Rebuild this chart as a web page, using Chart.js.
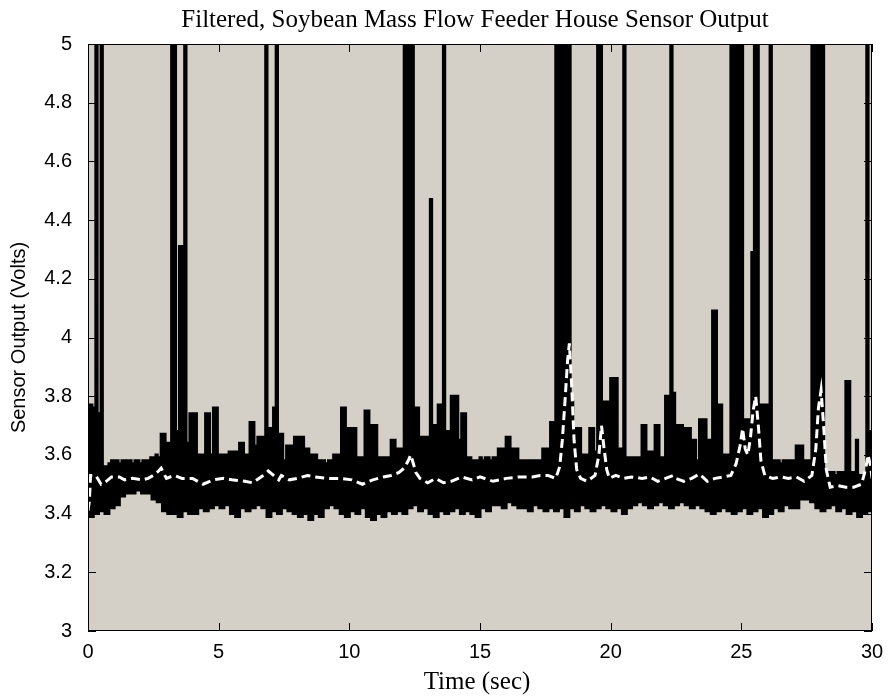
<!DOCTYPE html>
<html><head><meta charset="utf-8">
<script src="https://cdn.jsdelivr.net/npm/chart.js@4.4.1/dist/chart.umd.min.js"></script>
<style>html,body{margin:0;padding:0;background:#fff;}#wrap{width:888px;height:698px;}</style>
</head><body><div id="wrap"><canvas id="c" width="888" height="698"></canvas></div>
<script>
// ---- DATA ----
const chartTitle = 'Filtered, Soybean Mass Flow Feeder House Sensor Output';
const xTitle = 'Time (sec)';
const yTitle = 'Sensor Output (Volts)';
const xTickValues = [0, 5, 10, 15, 20, 25, 30];
const xTickLabels = ['0', '5', '10', '15', '20', '25', '30'];
const yTickValues = [3, 3.2, 3.4, 3.6, 3.8, 4, 4.2, 4.4, 4.6, 4.8, 5];
const yTickLabels = ['3', '3.2', '3.4', '3.6', '3.8', '4', '4.2', '4.4', '4.6', '4.8', '5'];

// raw sensor output: sample step (s); upper swing of each 0.1 s sample
const rawStep = 0.1;
const rawUpper = [
3.77,3.77,3.76,5.2,3.74,5.2,3.56,3.56,3.57,3.58,
3.58,3.58,3.57,3.58,3.58,3.58,3.58,3.57,3.58,3.58,
3.57,3.58,3.58,3.58,3.59,3.59,3.60,3.59,3.67,3.67,
3.64,3.64,5.2,5.2,3.68,4.31,4.31,5.2,3.64,3.74,
3.74,3.74,3.60,3.60,3.60,3.74,3.74,3.60,3.76,3.76,
3.60,3.60,3.60,3.60,3.61,3.61,3.61,3.61,3.64,3.64,
3.60,3.60,3.71,3.71,3.63,3.66,3.66,3.66,5.2,3.69,
3.69,3.76,5.2,3.67,3.67,3.58,3.63,3.63,3.63,3.66,
3.66,3.66,3.66,3.62,3.62,3.60,3.60,3.60,3.58,3.58,
3.58,3.57,3.58,3.58,3.60,3.60,3.60,3.76,3.76,3.69,
3.69,3.69,3.69,3.59,3.59,3.59,3.75,3.75,3.70,3.70,
3.70,3.59,3.59,3.59,3.59,3.59,3.65,3.65,3.62,3.62,
3.62,5.2,5.2,5.2,5.2,3.76,3.76,3.66,3.66,3.66,
3.66,4.47,3.70,3.70,3.77,3.77,5.2,3.68,3.68,3.80,
3.80,3.80,3.65,3.74,3.74,3.59,3.59,3.58,3.58,3.58,
3.59,3.58,3.59,3.59,3.58,3.59,3.59,3.62,3.62,3.62,
3.66,3.66,3.62,3.62,3.62,3.58,3.58,3.58,3.58,3.58,
3.58,3.58,3.58,3.58,3.62,3.62,3.62,3.71,3.71,5.2,
5.2,5.2,5.2,5.2,5.2,3.78,3.69,3.69,3.69,3.60,
3.60,3.60,3.69,3.69,3.61,5.2,5.2,3.78,3.78,3.78,
3.86,3.86,3.86,3.62,3.62,5.2,3.59,3.59,3.59,3.59,
3.59,3.59,3.70,3.70,3.61,3.61,3.61,3.70,3.70,3.59,
3.59,3.80,3.80,5.2,3.81,3.70,3.70,3.70,3.69,3.69,
3.69,3.65,3.65,3.58,3.72,3.72,3.72,3.65,3.65,4.09,
4.09,3.77,3.77,3.60,3.60,3.60,5.2,5.2,5.2,5.2,
5.2,3.72,3.72,3.72,4.29,5.2,5.2,3.77,3.77,3.77,
3.77,5.2,3.58,3.58,3.58,3.57,3.58,3.58,3.58,3.58,
3.58,3.63,3.63,3.63,3.58,3.58,3.58,5.2,5.2,5.2,
5.2,5.2,3.54,3.54,3.54,3.54,3.53,3.54,3.54,3.54,
3.85,3.85,3.54,3.54,3.65,3.53,3.53,3.53,5.2,3.68,
3.68
];
// lower swing of the raw signal, one value per 0.2 s
const rawLower = [
3.39,3.40,3.41,3.40,3.42,3.43,3.46,3.47,3.47,3.48,
3.47,3.47,3.45,3.44,3.41,3.40,3.40,3.39,3.41,3.40,
3.40,3.42,3.41,3.42,3.43,3.42,3.43,3.40,3.39,3.42,
3.41,3.42,3.43,3.42,3.39,3.41,3.40,3.42,3.41,3.40,
3.39,3.40,3.38,3.40,3.39,3.42,3.43,3.42,3.40,3.39,
3.41,3.40,3.42,3.39,3.38,3.40,3.39,3.41,3.40,3.41,
3.40,3.42,3.43,3.41,3.42,3.40,3.39,3.41,3.40,3.41,
3.42,3.40,3.41,3.40,3.39,3.42,3.41,3.43,3.43,3.42,
3.44,3.43,3.42,3.42,3.41,3.43,3.42,3.41,3.42,3.41,
3.42,3.39,3.42,3.41,3.43,3.42,3.41,3.42,3.43,3.42,
3.41,3.42,3.40,3.42,3.43,3.44,3.43,3.42,3.43,3.44,
3.43,3.42,3.43,3.44,3.43,3.42,3.43,3.42,3.41,3.40,
3.41,3.42,3.41,3.40,3.41,3.42,3.40,3.41,3.42,3.39,
3.40,3.42,3.41,3.43,3.42,3.42,3.45,3.45,3.44,3.42,
3.41,3.42,3.43,3.41,3.42,3.40,3.41,3.39,3.40,3.41,3.40
];

// filtered output (white dashed)
const filtTime = [0,0.05,0.1,0.3,0.5,0.7,0.9,1.2,1.4,1.7,2.1,2.3,2.5,2.7,2.8,3.0,3.3,3.6,4.0,4.4,4.8,5.2,5.5,6.0,6.3,6.7,6.9,7.1,7.3,7.4,7.7,8.0,8.4,8.7,9.2,9.6,10.1,10.5,10.9,11.3,11.6,11.9,12.1,12.25,12.35,12.45,12.55,12.7,13.0,13.3,13.6,13.9,14.3,14.7,15.0,15.5,16.0,16.5,17.0,17.3,17.6,17.9,18.05,18.15,18.25,18.35,18.42,18.5,18.6,18.7,18.85,19.1,19.4,19.55,19.65,19.75,19.85,19.95,20.2,20.5,20.8,21.2,21.5,21.8,22.1,22.4,22.5,22.8,23.1,23.4,23.7,24.0,24.3,24.6,24.8,24.95,25.05,25.15,25.25,25.35,25.45,25.55,25.65,25.75,25.9,26.2,26.5,26.8,27.1,27.4,27.7,27.85,27.95,28.05,28.15,28.25,28.4,28.7,29.0,29.3,29.6,29.75,29.85,29.95,30.0];
const filtVolts = [3.41,3.44,3.53,3.53,3.50,3.51,3.525,3.525,3.515,3.52,3.515,3.52,3.53,3.545,3.555,3.52,3.53,3.52,3.52,3.50,3.515,3.52,3.515,3.51,3.505,3.53,3.545,3.53,3.515,3.53,3.515,3.52,3.53,3.525,3.52,3.52,3.515,3.50,3.515,3.525,3.53,3.54,3.555,3.58,3.60,3.57,3.54,3.52,3.505,3.52,3.505,3.51,3.525,3.515,3.525,3.51,3.52,3.525,3.525,3.53,3.53,3.52,3.56,3.65,3.78,3.92,3.98,3.85,3.65,3.55,3.52,3.51,3.53,3.60,3.70,3.62,3.55,3.52,3.53,3.52,3.525,3.52,3.525,3.51,3.52,3.53,3.52,3.51,3.52,3.535,3.51,3.52,3.525,3.53,3.57,3.63,3.69,3.62,3.60,3.66,3.75,3.80,3.70,3.58,3.53,3.52,3.525,3.52,3.525,3.51,3.53,3.62,3.76,3.82,3.70,3.55,3.49,3.495,3.49,3.49,3.50,3.55,3.60,3.56,3.52];

// ---- build library tables ----
const rawPoints = [];
for (let i = 0; i < rawUpper.length; i++) {
  rawPoints.push({ x: i * rawStep, y: rawUpper[i] });
  rawPoints.push({ x: i * rawStep + rawStep / 2, y: rawLower[Math.floor(i / 2)] });
}
const filtPoints = filtTime.map((t, i) => ({ x: t, y: filtVolts[i] }));

const TICK_FONT = { family: 'Liberation Sans', size: 20 };

const framePlugin = {
  id: 'frame',
  beforeDraw(chart) {
    const { ctx, chartArea: a } = chart;
    ctx.save();
    ctx.fillStyle = '#ffffff';
    ctx.fillRect(0, 0, chart.width, chart.height);
    ctx.fillStyle = '#d4d0c8';
    ctx.fillRect(a.left, a.top, a.right - a.left, a.bottom - a.top);
    ctx.restore();
  },
  afterDraw(chart) {
    const { ctx, chartArea: a, scales } = chart;
    ctx.save();
    ctx.strokeStyle = '#000';
    ctx.lineWidth = 1;
    ctx.strokeRect(a.left + 0.5, a.top + 0.5, a.right - a.left - 1, a.bottom - a.top - 1);
    const tl = 8;
    ctx.beginPath();
    yTickValues.forEach(v => {
      const py = Math.round(scales.y.getPixelForValue(v)) + 0.5;
      ctx.moveTo(a.left, py); ctx.lineTo(a.left + tl, py);
      ctx.moveTo(a.right, py); ctx.lineTo(a.right - tl, py);
    });
    xTickValues.forEach(v => {
      const px = Math.round(scales.x.getPixelForValue(v)) + 0.5;
      ctx.moveTo(px, a.bottom); ctx.lineTo(px, a.bottom - tl);
      ctx.moveTo(px, a.top); ctx.lineTo(px, a.top + tl);
    });
    ctx.stroke();
    // texts
    ctx.fillStyle = '#000';
    ctx.textAlign = 'center';
    ctx.textBaseline = 'alphabetic';
    ctx.font = '25px "Liberation Serif"';
    ctx.fillText(chartTitle, 475, 27);
    ctx.fillText(xTitle, 477, 689);
    ctx.translate(19, (a.top + a.bottom) / 2);
    ctx.rotate(-Math.PI / 2);
    ctx.textBaseline = 'middle';
    ctx.font = '20px "Liberation Sans"';
    ctx.fillText(yTitle, 0, 0);
    ctx.restore();
  }
};

new Chart(document.getElementById('c'), {
  type: 'line',
  data: {
    datasets: [
      { label: 'Filtered', data: filtPoints, borderColor: '#ffffff', borderWidth: 3,
        borderDash: [9, 5], pointRadius: 0, tension: 0, order: 1, clip: 0 },
      { label: 'Raw', data: rawPoints, borderColor: '#000000', borderWidth: 3,
        stepped: true, pointRadius: 0, tension: 0, order: 2, clip: 0 }
    ]
  },
  options: {
    responsive: false,
    animation: false,
    devicePixelRatio: 1,
    layout: { padding: { left: 0, right: 16, top: 44, bottom: 0 } },
    plugins: { legend: { display: false }, tooltip: { enabled: false }, title: { display: false } },
    scales: {
      x: {
        type: 'linear', min: 0, max: 30,
        grid: { display: false }, border: { display: false },
        afterBuildTicks: s => { s.ticks = xTickValues.map(v => ({ value: v })); },
        afterFit: s => { s.height = 67; },
        ticks: { padding: 1, color: '#000', font: TICK_FONT, maxRotation: 0, autoSkip: false,
          callback: (v, i) => xTickLabels[i] }
      },
      y: {
        type: 'linear', min: 3, max: 5,
        grid: { display: false }, border: { display: false },
        afterBuildTicks: s => { s.ticks = yTickValues.map(v => ({ value: v })); },
        afterFit: s => { s.width = 88; },
        ticks: { padding: 8, color: '#000', font: TICK_FONT, autoSkip: false,
          callback: (v, i) => yTickLabels[i] }
      }
    }
  },
  plugins: [framePlugin]
});
</script></body></html>
